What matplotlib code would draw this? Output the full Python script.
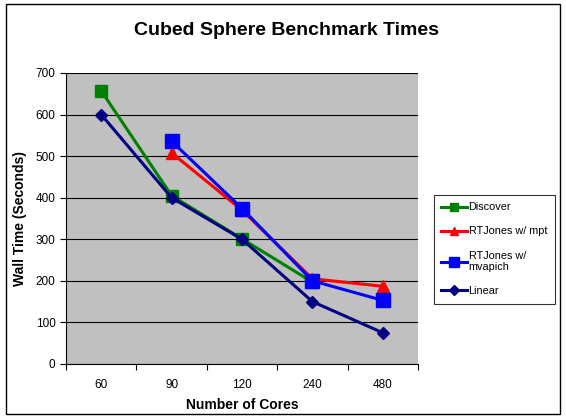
import matplotlib.pyplot as plt
from matplotlib.patches import Rectangle
import numpy as np

plt.rcParams['font.family'] = ['Liberation Sans', 'DejaVu Sans']

cores = ['60', '90', '120', '240', '480']
discover = [657, 405, 301, 197, np.nan]
rtjones_mpt = [np.nan, 508, 370, 205, 187]
rtjones_mvapich = [np.nan, 536, 374, 200, 153]
linear = [600, 400, 300, 150, 75]

fig = plt.figure(figsize=(5.66, 4.19), dpi=100)
fig.patches.append(Rectangle((0.011, 0.012), 0.978, 0.978, transform=fig.transFigure,
                             fill=False, edgecolor='black', linewidth=1))
ax = fig.add_axes([0.1166, 0.1313, 0.622, 0.6945])
ax.set_facecolor('#C0C0C0')

x = np.arange(len(cores))
ax.plot(x, discover, color='#008000', marker='s', markersize=8, linewidth=2.2, label='Discover')
ax.plot(x, rtjones_mpt, color='#FF0000', marker='^', markersize=8, linewidth=2.2, label='RTJones w/ mpt')
ax.plot(x, rtjones_mvapich, color='#0000FF', marker='s', markersize=9.5, linewidth=2.2, label='RTJones w/\nmvapich')
ax.plot(x, linear, color='#000080', marker='D', markersize=6, linewidth=2.2, label='Linear')

ax.set_ylim(0, 700)
ax.set_yticks(range(0, 701, 100))
ax.yaxis.grid(True, color='black', linewidth=0.8)
ax.set_axisbelow(True)
ax.set_xlim(-0.5, len(cores) - 0.5)
ax.set_xticks(np.arange(-0.5, len(cores)), labels=[''] * (len(cores) + 1))
ax.set_xticks(x, labels=cores, minor=True)
ax.tick_params(axis='x', which='minor', length=0, pad=11, labelsize=8.5)
ax.tick_params(axis='x', which='major', length=4)
ax.tick_params(axis='y', labelsize=8.5, length=4)
for s in ['top', 'right']:
    ax.spines[s].set_visible(False)

ax.set_xlabel('Number of Cores', fontsize=10, fontweight='bold', labelpad=5)
ax.set_ylabel('Wall Time (Seconds)', fontsize=10, fontweight='bold', labelpad=6)
fig.text(0.507, 0.928, 'Cubed Sphere Benchmark Times', ha='center', va='center',
         fontsize=14, fontweight='bold')

leg = fig.legend(loc='upper left', bbox_to_anchor=(0.757, 0.548), fontsize=7.8,
                 frameon=True, fancybox=False, edgecolor='black', handlelength=2.4,
                 borderpad=0.7, labelspacing=1.3, handletextpad=0.1, markerscale=0.8)
leg.get_frame().set_linewidth(0.8)

fig.savefig('out.png', dpi=100)
